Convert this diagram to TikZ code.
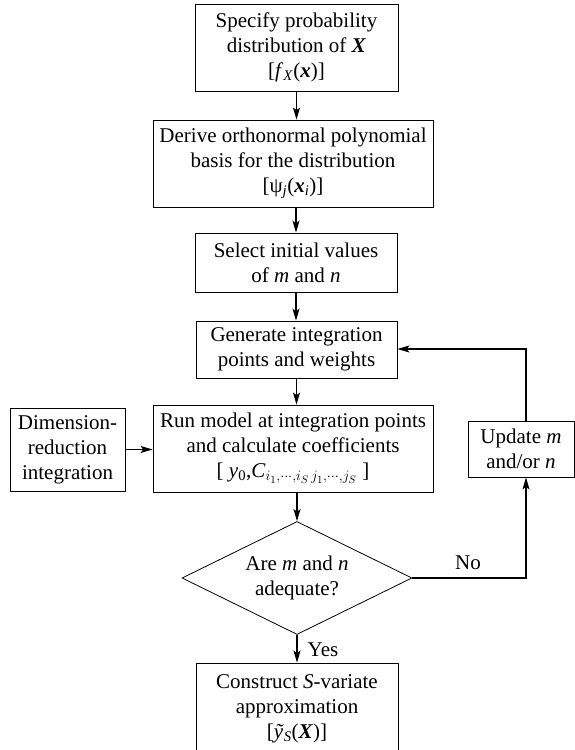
\documentclass[tikz,border=0pt]{standalone}
\usepackage{fontspec}
\setmainfont{Liberation Serif}
\usetikzlibrary{shapes.geometric,arrows.meta}
\begin{document}
\begin{tikzpicture}[x=1pt,y=-1pt,
  box/.style={draw, line width=0.8pt, align=center, inner sep=0pt, font=\fontsize{21}{25}\selectfont},
  arr/.style={line width=1.3pt, -{Stealth[length=12pt,width=7pt,inset=2.5pt]}},
  lbl/.style={font=\fontsize{21}{25}\selectfont, inner sep=0pt}]
\useasboundingbox (0,0) rectangle (575,750);
\node[box, minimum width=203pt, minimum height=87pt] (b1) at (296.5,47.5)
  {Specify probability\\distribution of \textbf{\textit{X}}\\{[}\textit{f}\textsubscript{\textit{X}}(\textbf{\textit{x}}){]}};
\node[box, minimum width=280pt, minimum height=87pt] (b2) at (293,163.5)
  {Derive orthonormal polynomial\\basis for the distribution\\{[}ψ\textsubscript{\textit{j}}(\textbf{\textit{x}}\textsubscript{\textit{i}}){]}};
\node[box, minimum width=202pt, minimum height=59pt] (b3) at (296,262.5)
  {Select initial values\\of \textit{m} and \textit{n}};
\node[box, minimum width=201pt, minimum height=57pt] (b4) at (296.5,349.5)
  {Generate integration\\points and weights};
\node[box, minimum width=280pt, minimum height=87pt] (b5) at (293,448.5)
  {Run model at integration points\\and calculate coefficients\\{[} \textit{y}\textsubscript{0},\textit{C}$_{i_1,\cdots,i_S\,j_1,\cdots,j_S}$ {]}};
\node[box, minimum width=115pt, minimum height=83pt] (dim) at (67.5,449.5)
  {Dimension-\\reduction\\integration};
\node[box, minimum width=106pt, minimum height=56pt] (upd) at (521,449)
  {Update \textit{m}\\and/or \textit{n}};
\node[draw, line width=0.8pt, diamond, aspect=2, minimum width=230pt, minimum height=113pt, inner sep=0pt, align=center, font=\fontsize{21}{25}\selectfont] (dia) at (297,578)
  {Are \textit{m} and \textit{n}\\adequate?};
\node[box, minimum width=202pt, minimum height=92pt] (fin) at (297,709)
  {Construct \textit{S}-variate\\approximation\\{[}\textit{ỹ}\textsubscript{\textit{S}}(\textbf{\textit{X}}){]}};
\node[lbl] (no) at (468,563) {No};
\node[lbl] (yes) at (323,650) {Yes};
\coordinate (c1) at (526,578);
\coordinate (c2) at (526,349);
\draw[arr] (b1.south) -- (b1.south |- b2.north);
\draw[arr] (b2.south -| b3.north) -- (b3.north);
\draw[arr] (b3.south) -- (b3.south |- b4.north);
\draw[arr] (b4.south) -- (b4.south |- b5.north);
\draw[arr] (dia.north |- b5.south) -- (dia.north);
\draw[arr] (dia.south) -- (fin.north);
\draw[arr] (dim.east) -- (dim.east -| b5.west);
\draw[arr] (dia.east) -- (c1) -- (c1 |- upd.south);
\draw[arr] (c1 |- upd.north) -- (c2) -- (c2 -| b4.east);
\end{tikzpicture}
\end{document}
